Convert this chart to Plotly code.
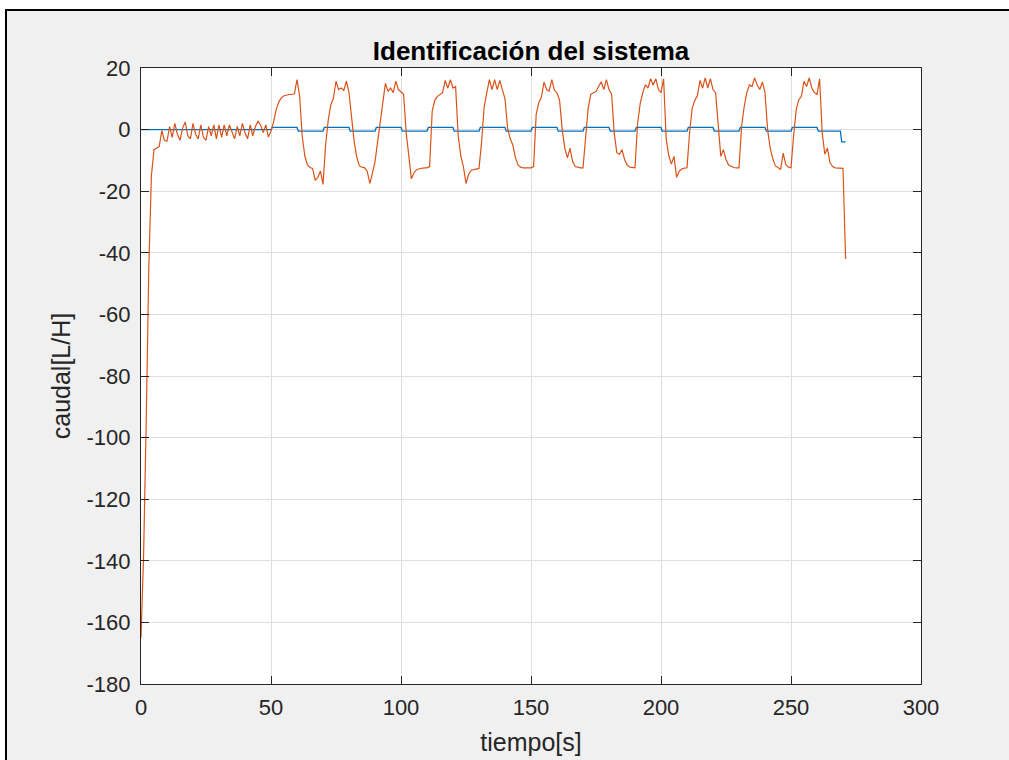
import plotly.graph_objects as go

# ---------------- data ----------------
tiempo = list(range(0, 272))
caudal = [
    -165, -138, -95, -45, -15, -6.5, -6, -5.5, -0.3, -3.5,
    -3.8, 1, -2.5, 2, -1.5, -3.5, 0.5, 2.5, -2, -3,
    2, -1.5, -3, 1.5, -2.5, -3.5, 1, -2, 1.5, -3,
    1.5, -2.5, 1.5, -2, 1.5, -1, -3, 1, -2, 2,
    -1, -3, 1.5, -2, 1, 2.7, 1.5, -1, 1.5, -2.4,
    -0.5, 2.5, 6.5, 9, 10.3, 11, 11.3, 11.4, 11.4, 11.6,
    16.2, 11, -2, -8.5, -11.5, -12.3, -12.6, -16.5, -15.5, -13.5,
    -17.8, -5, 3, 8, 10.2, 15.7, 13, 13.5, 12.7, 15.7,
    12, 3.5, -4, -9, -11.8, -12.2, -12.4, -13.5, -17.5, -14.2,
    -10.5, -4, 2, 8.5, 15, 12.4, 13.5, 12, 15.7, 13,
    12.2, 11.5, -1, -8, -16, -14, -13, -12.7, -12.5, -12.4,
    -12.4, -12, 6, 9.5, 10.8, 11.5, 12, 16, 13.5, 16.2,
    13.5, 14, -2, -8.5, -12, -17.5, -14.5, -13.2, -13, -12.8,
    -12.6, -4, 7.5, 12, 16.2, 13, 16.2, 13, 16, 13,
    10, 0.5, -3, -5, -9, -11.5, -12.2, -12.4, -12.4, -12.4,
    -12.4, -12, 5, 8.7, 10.5, 15.4, 13, 12.5, 16.2, 12.8,
    11.9, 9.5, 0, -6, -9.2, -6, -10.3, -12, -12.3, -12.4,
    -12.4, -2, 7, 11.5, 12, 12.4, 14, 15.5, 13, 16.2,
    13, 11.5, -1, -7.5, -8, -6.5, -9.7, -11.5, -12.2, -12.4,
    -12.4, 2, 8.5, 12, 14.6, 13.5, 16.5, 14.5, 16.5, 13,
    12, 16.5, -3, -8.5, -11.2, -8.7, -15.5, -13.5, -12.8, -12.5,
    -12.4, -1, 7, 9.5, 11, 16, 13.5, 16.8, 13.5, 16.5,
    13, 12, 0, -8.7, -6.5, -9.7, -11.5, -12, -12.3, -12.4,
    -12.4, 1, 7.5, 12, 14.5, 14, 16.8, 14.5, 13, 15.5,
    12, 0, -6, -9.5, -11.8, -12.3, -13, -7.6, -11.4, -12.2,
    -12.4, -2, 6.5, 9.7, 10.8, 15.7, 14, 16.8, 13.5, 12,
    11.4, 16.5, -1, -8, -6, -10.8, -12, -12.4, -12.4, -12.5,
    -12.6, -42,
]

entrada_t = [0, 50, 50.5, 60, 60.5, 70, 70.5, 80, 80.5, 90, 90.5, 100, 100.5,
             110, 110.5, 120, 120.5, 130, 130.5, 140, 140.5, 150, 150.5,
             160, 160.5, 170, 170.5, 180, 180.5, 190, 190.5, 200, 200.5,
             210, 210.5, 220, 220.5, 230, 230.5, 240, 240.5, 250, 250.5,
             260, 260.5, 269, 269.5, 271]
entrada_v = [0, 0, 0.7, 0.7, -0.5, -0.5, 0.7, 0.7, -0.5, -0.5, 0.7, 0.7, -0.5,
             -0.5, 0.7, 0.7, -0.5, -0.5, 0.7, 0.7, -0.5, -0.5, 0.7,
             0.7, -0.5, -0.5, 0.7, 0.7, -0.5, -0.5, 0.7, 0.7, -0.5,
             -0.5, 0.7, 0.7, -0.5, -0.5, 0.7, 0.7, -0.5, -0.5, 0.7,
             0.7, -0.5, -0.5, -4, -4]

x_ticks = [0, 50, 100, 150, 200, 250, 300]
x_tick_text = ["0", "50", "100", "150", "200", "250", "300"]
y_ticks = [-180, -160, -140, -120, -100, -80, -60, -40, -20, 0, 20]
y_tick_text = ["-180", "-160", "-140", "-120", "-100", "-80", "-60", "-40", "-20", "0", "20"]

titulo = "Identificación del sistema"
x_label = "tiempo[s]"
y_label = "caudal[L/H]"

# ---------------- layout geometry ----------------
W, H = 1009, 760
L, R, T, B = 141, 88, 68, 76
pw, ph = W - L - R, H - T - B


def px(xp):
    return (xp - L) / pw


def py(yp):
    return (H - B - yp) / ph


FONT = "Liberation Sans, Arial, Helvetica, sans-serif"
AX = "#262626"

fig = go.Figure()
fig.add_trace(go.Scatter(x=entrada_t, y=entrada_v, mode="lines",
                         line=dict(color="#0072BD", width=1.3), showlegend=False))
fig.add_trace(go.Scatter(x=tiempo, y=caudal, mode="lines",
                         line=dict(color="#D95319", width=1.2), showlegend=False))

shapes = [
    dict(type="rect", xref="paper", yref="paper", x0=px(0), x1=px(W), y0=py(0), y1=py(10),
         fillcolor="white", line=dict(width=0), layer="below"),
    dict(type="rect", xref="paper", yref="paper", x0=px(0), x1=px(6), y0=py(0), y1=py(H),
         fillcolor="white", line=dict(width=0), layer="below"),
    dict(type="line", xref="paper", yref="paper", x0=px(5), x1=px(W), y0=py(10), y1=py(10),
         line=dict(color="black", width=2), layer="above"),
    dict(type="line", xref="paper", yref="paper", x0=px(6), x1=px(6), y0=py(9), y1=py(H),
         line=dict(color="black", width=2), layer="above"),
]

fig.update_layout(
    width=W, height=H, autosize=False,
    margin=dict(l=L, r=R, t=T, b=B, pad=0, autoexpand=False),
    paper_bgcolor="#f0f0f0", plot_bgcolor="white",
    font=dict(family=FONT, color=AX, size=22),
    title=dict(text=titulo, x=0.5, xref="paper", xanchor="center",
               y=1 - 51 / H, yref="container", yanchor="middle",
               font=dict(family=FONT, size=26, color="black", weight="bold")),
    shapes=shapes,
)
fig.update_xaxes(
    range=[0, 300], tickvals=x_ticks, ticktext=x_tick_text, automargin=False,
    showline=True, mirror="ticks", linecolor=AX, linewidth=1,
    ticks="inside", ticklen=8, tickcolor=AX, tickwidth=1,
    showgrid=True, gridcolor="#dedede", gridwidth=1, zeroline=False,
    tickfont=dict(size=22, color=AX), ticklabelstandoff=4,
    title=dict(text=x_label, font=dict(size=25, color=AX), standoff=14),
)
fig.update_yaxes(
    range=[-180, 20], tickvals=y_ticks, ticktext=y_tick_text, automargin=False,
    showline=True, mirror="ticks", linecolor=AX, linewidth=1,
    ticks="inside", ticklen=8, tickcolor=AX, tickwidth=1,
    showgrid=True, gridcolor="#dedede", gridwidth=1, zeroline=False,
    tickfont=dict(size=22, color=AX), ticklabelstandoff=5,
    title=dict(text=y_label, font=dict(size=25, color=AX), standoff=8),
)

fig.write_html("out.html")
